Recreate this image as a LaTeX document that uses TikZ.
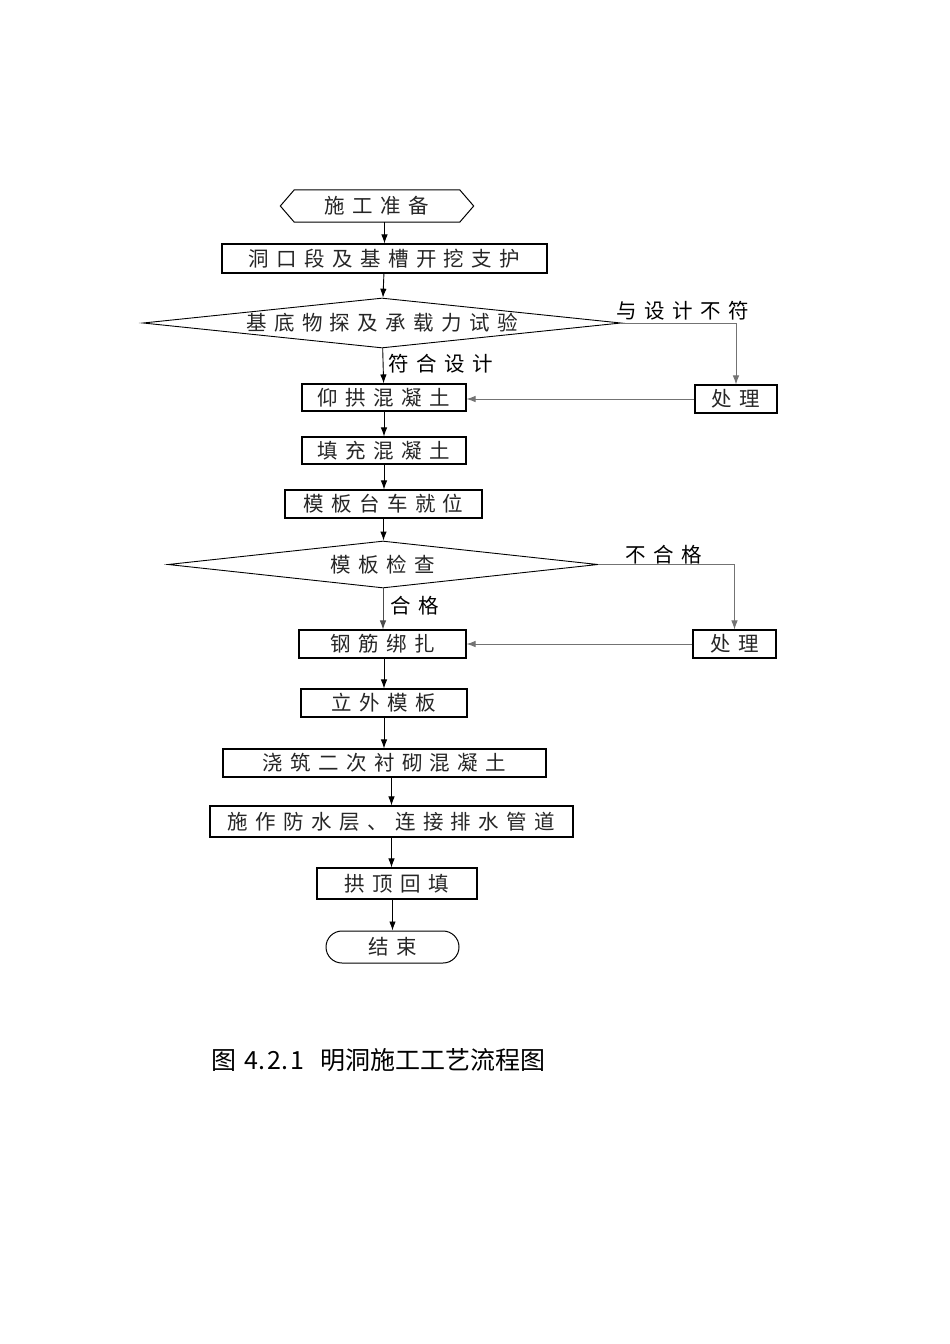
\documentclass[tikz,border=0pt]{standalone}
\usepackage{fontspec}
\newfontfamily\cjk[LetterSpace=36]{Noto Sans CJK SC}
\newfontfamily\cjkcap{Noto Sans CJK SC}
\usetikzlibrary{arrows.meta, shapes.geometric, shapes.misc}
\begin{document}
\begin{tikzpicture}[x = 1pt, y = -1pt,
        font = \cjk\fontsize{20.5}{22}\selectfont,
        box/.style = {draw, line width = 1.1pt, inner sep = 0pt, text = black!85},
        decide/.style = {diamond, draw, line width = 0.9pt, inner sep = 0pt, text = black!85},
        arr/.style = {-{Latex[length = 9pt, width = 6.5pt]}, line width = 0.9pt},
        side/.style = {arr, draw = black!55}]
        \useasboundingbox [fill = white] (0, 0) rectangle (950, 1344);
        \node [minimum width = 165, minimum height = 32, inner sep = 0pt, text = black!85] (start) at (377, 206) {施工准备};
        \draw [line width = 1pt] (start.north west) -- (start.north east) -- ([xshift = 14pt]start.east)
            -- (start.south east) -- (start.south west) -- ([xshift = -14pt]start.west) -- cycle;
        \node [box, minimum width = 325, minimum height = 29] (dig) at (384.5, 258.5) {洞口段及基槽开挖支护};
        \node [decide, aspect = 9.56, minimum width = 478, minimum height = 50] (test) at (382, 323) {基底物探及承载力试验};
        \node [box, minimum width = 82, minimum height = 28] (fix1) at (736, 399) {处理};
        \node [box, minimum width = 164, minimum height = 27] (invert) at (384, 397.5) {仰拱混凝土};
        \node [box, minimum width = 164, minimum height = 27] (fill) at (384, 450.5) {填充混凝土};
        \node [box, minimum width = 197, minimum height = 28] (trolley) at (383.5, 504) {模板台车就位};
        \node [decide, aspect = 9.15, minimum width = 430, minimum height = 47] (check) at (383, 564.5) {模板检查};
        \node [box, minimum width = 83, minimum height = 28] (fix2) at (734.5, 644) {处理};
        \node [box, minimum width = 167, minimum height = 28] (rebar) at (382.5, 644) {钢筋绑扎};
        \node [box, minimum width = 166, minimum height = 28] (outer) at (384, 703) {立外模板};
        \node [box, minimum width = 323, minimum height = 28] (lining) at (384.5, 763) {浇筑二次衬砌混凝土};
        \node [box, minimum width = 363, minimum height = 31] (water) at (391.5, 821.5) {施作防水层、连接排水管道};
        \node [box, minimum width = 160, minimum height = 31] (backfill) at (397, 883.5) {拱顶回填};
        \node [rounded rectangle, draw, line width = 1pt, minimum width = 133, minimum height = 32, inner sep = 0pt, text = black!85] (finish) at (392.5, 947) {结束};
        \node (nomatch) at (683, 311) {与设计不符};
        \node (match) at (441, 364) {符合设计};
        \node (fail) at (664, 555) {不合格};
        \node (pass) at (415, 606) {合格};
        \node [font = \cjkcap\fontsize{25}{28}\selectfont, inner sep = 0pt] (caption) at (378.5, 1060)
            {图\hspace{8pt}4.\hspace{2pt}2.\hspace{2pt}1\hspace{16pt}明洞施工工艺流程图};
        \draw [arr] (dig.north |- start.south) -- (dig.north);
        \draw [arr] (dig) -- (test);
        \draw [arr] (test) -- (invert);
        \draw [side] (test.east) -| (fix1.north);
        \draw [side] (fix1.west) -- (fix1.west -| invert.east);
        \draw [arr] (invert) -- (fill);
        \draw [arr] (fill) -- (fill.south |- trolley.north);
        \draw [arr] (trolley.south) -- (trolley.south |- check.north);
        \draw [arr, draw = black!70] (check.south) -- (check.south |- rebar.north);
        \draw [side] (check.east) -| (fix2.north);
        \draw [side] (fix2.west) -- (rebar.east);
        \draw [arr] (outer.north |- rebar.south) -- (outer.north);
        \draw [arr] (outer.south) -- (outer.south |- lining.north);
        \draw [arr] (water.north |- lining.south) -- (water.north);
        \draw [arr] (water.south) -- (water.south |- backfill.north);
        \draw [arr] (finish.north |- backfill.south) -- (finish.north);
    \end{tikzpicture}
\end{document}
